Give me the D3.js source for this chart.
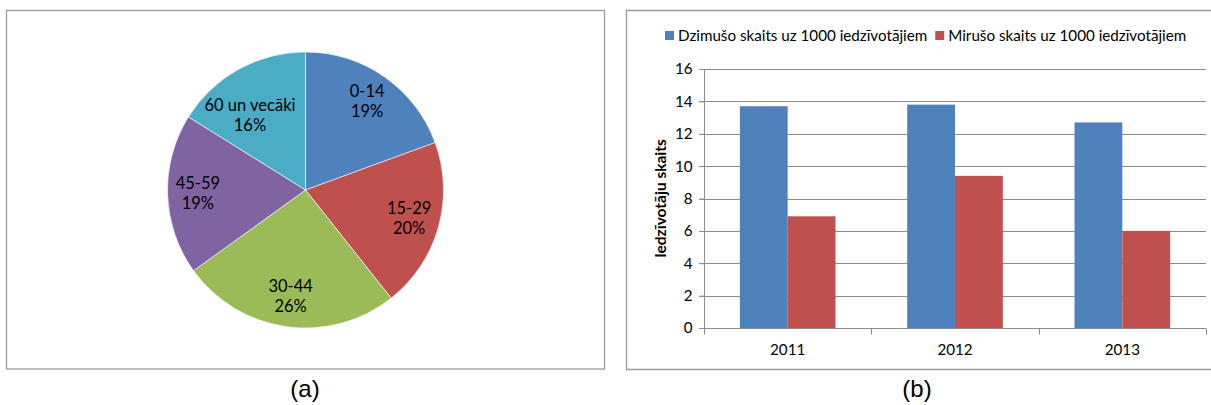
<!DOCTYPE html>
<html>
<head>
<meta charset="utf-8">
<script src="https://cdn.jsdelivr.net/npm/d3@7"></script>
<style>
  html, body { margin: 0; padding: 0; background: #fff; }
  svg { display: block; }
  text { font-family: Lato, "Open Sans", sans-serif; fill: #000; }
</style>
</head>
<body>
<svg id="chart" width="1211" height="405"></svg>
<script>
// ---- Data ----
const ageGroups = ["0-14", "15-29", "30-44", "45-59", "60 un vecāki"];
const ageShares = [19.4, 19.9, 25.7, 18.8, 16.1];
const ageColors = ["#4F81BD", "#C0504D", "#9BBB59", "#8064A2", "#4BACC6"];

const years = ["2011", "2012", "2013"];
const seriesNames = ["Dzimušo skaits uz 1000 iedzīvotājiem", "Mirušo skaits uz 1000 iedzīvotājiem"];
const birthRate = [13.7, 13.8, 12.7];
const deathRate = [6.9, 9.4, 6.0];
const seriesColors = ["#4F81BD", "#C0504D"];
const yTicks = [0, 2, 4, 6, 8, 10, 12, 14, 16];
const yTitle = "Iedzīvotāju skaits";
const panelLabels = ["(a)", "(b)"];

const svg = d3.select("#chart");
const FONT = 15.2;
const PIEFONT = 16.5;

// ---- Panel frames ----
svg.append("rect").attr("x", 6.5).attr("y", 10.5).attr("width", 598).attr("height", 358.5)
  .attr("fill", "none").attr("stroke", "#9a9a9a").attr("stroke-width", 1.3);
svg.append("path").attr("d", "M1212,10.5 H626.5 V369.5 H1212")
  .attr("fill", "none").attr("stroke", "#9a9a9a").attr("stroke-width", 1.3);

// ---- Panel (a): pie ----
const cx = 305.5, cy = 190, R = 138;
const pie = d3.pie().sort(null).value(d => d)(ageShares);
const arc = d3.arc().innerRadius(0).outerRadius(R);
const total = d3.sum(ageShares);
const gp = svg.append("g").attr("transform", `translate(${cx},${cy})`);
gp.selectAll("path.slice").data(pie).join("path")
  .attr("class", "slice")
  .attr("d", arc)
  .attr("fill", (d, i) => ageColors[i])
  .attr("stroke", "#fff").attr("stroke-width", 0.6);

const lineH = 20;
gp.selectAll("g.lbl").data(pie).join("g").attr("class", "lbl").each(function(d, i) {
  const g = d3.select(this);
  const t = g.append("text").attr("text-anchor", "middle").style("font-size", PIEFONT + "px");
  t.append("tspan").attr("x", 0).attr("dy", 0).text(ageGroups[i]);
  t.append("tspan").attr("x", 0).attr("dy", lineH).text(Math.round(d.value / total * 100) + "%");
  const w = t.node().getBBox().width;
  const hw = w / 2;
  const mid = (d.startAngle + d.endAngle) / 2;
  const pos = r => [Math.sin(mid) * r, -Math.cos(mid) * r];
  const inside = (r, hh, lim) => {
    const [x, y] = pos(r);
    return [[-1,-1],[1,-1],[-1,1],[1,1]].every(([sx, sy]) => Math.hypot(x + sx * hw, y + sy * hh) < lim);
  };
  // best fit: keep the default centroid if the text fits, otherwise pull inward
  let rho = 0.78 * R;
  if (!inside(rho, 12, R - 1)) {
    while (!inside(rho, 18, R - 11) && rho > 40) rho -= 1;
  }
  let [x, yy] = pos(rho);
  // keep the label clear of the slice's vertical edge at 12 o'clock
  const sideLeft = d.startAngle >= Math.PI;
  if (sideLeft && x + hw > -10) x = -10 - hw;
  if (!sideLeft && d.startAngle === 0 && x - hw < 10) x = 10 + hw;
  t.attr("transform", `translate(${x},${yy - lineH / 2 + 5})`);
});

// ---- Panel (b): bar chart ----
const plot = { left: 704, right: 1206, top: 69, bottom: 328 };
const x0 = d3.scaleBand().domain(years).range([plot.left, plot.right]).paddingInner(0).paddingOuter(0);
const y = d3.scaleLinear().domain([0, 16]).range([plot.bottom, plot.top]);
const gapRatio = 1.5; // Excel gap width 150%
const barW = x0.bandwidth() / (2 + gapRatio);
const gb = svg.append("g");

// gridlines
gb.append("g").selectAll("line").data(yTicks).join("line")
  .attr("x1", plot.left - 5).attr("x2", plot.right)
  .attr("y1", d => Math.round(y(d)) + 0.5).attr("y2", d => Math.round(y(d)) + 0.5)
  .attr("stroke", "#8c8c8c").attr("stroke-width", 1);

// bars
const seriesData = [birthRate, deathRate];
seriesData.forEach((vals, s) => {
  gb.append("g").selectAll("rect").data(vals).join("rect")
    .attr("x", (d, i) => x0(years[i]) + x0.bandwidth() / 2 - barW + s * barW)
    .attr("width", barW)
    .attr("y", d => y(d))
    .attr("height", d => y(0) - y(d))
    .attr("fill", seriesColors[s]);
});

// y axis
const yAxis = d3.axisLeft(y).tickValues(yTicks).tickSize(5).tickPadding(7).tickFormat(d3.format("d"));
const ya = gb.append("g").attr("transform", `translate(${plot.left + 0.5},0)`).call(yAxis);
ya.select(".domain").attr("stroke", "#8c8c8c").attr("d", `M0,${plot.top}V${plot.bottom}`);
ya.selectAll(".tick line").attr("stroke", "#8c8c8c");
ya.selectAll(".tick text").style("font-size", FONT + "px").style("font-family", "Lato, sans-serif").attr("fill", "#000");

// x axis
const xAxis = d3.axisBottom(x0).tickSize(0).tickPadding(16);
const xa = gb.append("g").attr("transform", `translate(0,${Math.round(y(0)) + 0.5})`).call(xAxis);
xa.select(".domain").attr("stroke", "#8c8c8c").attr("d", `M${plot.left},0H${plot.right}`);
xa.selectAll(".tick text").style("font-size", FONT + "px").style("font-family", "Lato, sans-serif").attr("fill", "#000");
// category separator tick marks
const sepX = years.map(yr => x0(yr)).concat([x0(years[years.length - 1]) + x0.bandwidth()]);
xa.append("g").selectAll("line").data(sepX).join("line")
  .attr("x1", d => Math.round(d) + 0.5).attr("x2", d => Math.round(d) + 0.5)
  .attr("y1", 0).attr("y2", 6).attr("stroke", "#8c8c8c");

// y title
svg.append("text")
  .attr("transform", `translate(666,${(plot.top + plot.bottom) / 2}) rotate(-90)`)
  .attr("text-anchor", "middle")
  .style("font-size", "15.5px").style("font-weight", "bold")
  .text(yTitle);

// legend
const lg = svg.append("g");
let lx = 665;
seriesNames.forEach((name, i) => {
  lg.append("rect").attr("x", lx).attr("y", 31).attr("width", 9).attr("height", 9).attr("fill", seriesColors[i]);
  const t = lg.append("text").attr("x", lx + 13).attr("y", 41).style("font-size", FONT + "px").text(name);
  lx += 13 + t.node().getComputedTextLength() + 8;
});

// panel labels
svg.selectAll("text.panel").data(panelLabels).join("text").attr("class", "panel")
  .attr("x", (d, i) => i === 0 ? 305 : 917).attr("y", 397)
  .attr("text-anchor", "middle")
  .style("font-family", "'Liberation Sans', Arial, sans-serif").style("font-size", "24px")
  .text(d => d);
</script>
</body>
</html>
